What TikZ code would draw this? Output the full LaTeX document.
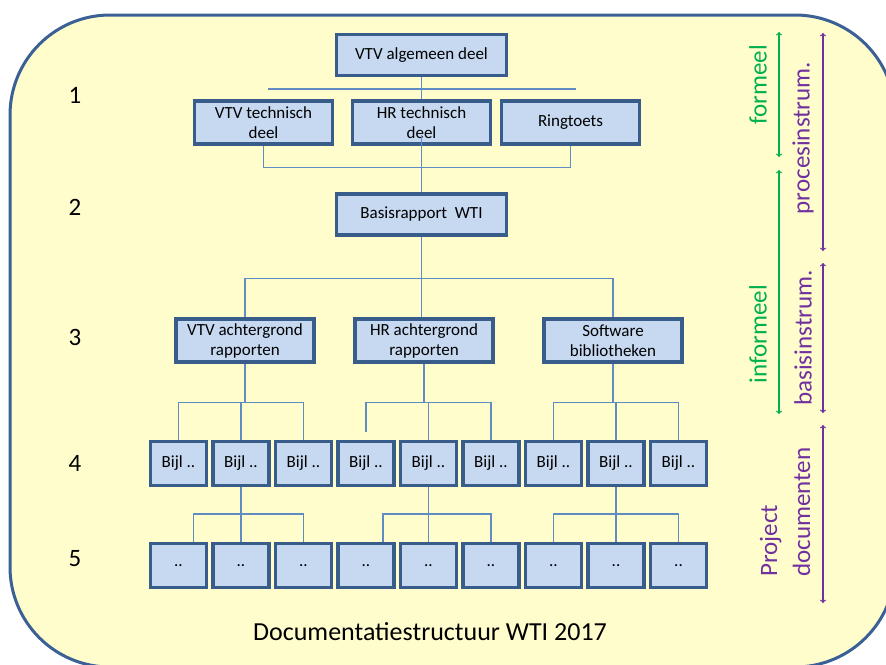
\documentclass[tikz,border=0pt]{standalone}
\usepackage{fontspec}
\setmainfont{Carlito}
\usetikzlibrary{positioning}

\definecolor{boxfill}{RGB}{198,217,241}
\definecolor{boxline}{RGB}{56,93,138}
\definecolor{linkblue}{RGB}{95,140,195}
\definecolor{bgyellow}{RGB}{255,253,204}
\definecolor{frameblue}{RGB}{59,96,150}
\definecolor{formgreen}{RGB}{0,176,80}
\definecolor{instpurple}{RGB}{112,48,160}

\tikzset{
  doc/.style={draw=boxline, fill=boxfill, line width=3.2pt, align=center,
    inner sep=0pt, font=\fontsize{17}{20}\selectfont},
  docwide/.style={doc, minimum width=170pt, minimum height=41pt},
  docmid/.style={doc, minimum width=138pt, minimum height=43pt},
  docsmall/.style={doc, minimum width=56pt, minimum height=44pt},
  link/.style={draw=linkblue, line width=1.5pt},
  lvl/.style={font=\fontsize{25}{28}\selectfont},
  side/.style={rotate=90, inner sep=0pt, font=\fontsize{25}{33}\selectfont},
  span/.style={<->, line width=1.2pt},
}

\begin{document}
\begin{tikzpicture}[x=1pt, y=-1pt, on grid]
    \useasboundingbox (0,0) rectangle (886,664);
    \draw[draw=frameblue, fill=bgyellow, line width=3pt, rounded corners=100pt]
        (10,15) rectangle (895,667);

    % level numbers
    \node[lvl] (n1) at (75,95) {1};
    \node[lvl] (n2) at (75,207) {2};
    \node[lvl] (n3) at (75,337) {3};
    \node[lvl] (n4) at (75,463) {4};
    \node[lvl] (n5) at (75,559) {5};

    % documents
    \node[docwide] (top) at (421.5,55) {VTV algemeen deel};
    \node[docmid] (hrtech) at (421.5,122.5) {HR technisch\\deel};
    \node[docmid] (vtvtech) [left=158pt of hrtech] {VTV technisch\\deel};
    \node[docmid] (ring) [right=149pt of hrtech] {Ringtoets};
    \node[docwide] (basis) at (421.5,214.5) {Basisrapport\ \ WTI};
    \node[docmid] (hrach) at (424,340.5) {HR achtergrond\\rapporten};
    \node[docmid] (vtvach) [left=179pt of hrach] {VTV achtergrond\\rapporten};
    \node[docmid] (soft) [right=189pt of hrach] {Software\\bibliotheken};
    \foreach \i in {1,...,9} {
        \node[docsmall] (b\i) at ({116+62.5*\i},463.5) {Bijl ..};
        \node[docsmall] (d\i) at ({116+62.5*\i},565.5) {..};
    }

    % connectors
    \coordinate (barl) at (268,89);
    \coordinate (barr) at (576,89);
    \draw[link] (barl) -- (barr);
    \draw[link] (top) -- (hrtech);
    \draw[link] (vtvtech.south) -- ++(0,22) -| (ring.south);
    \draw[link] ([yshift=-12pt]hrtech.center) -- (basis.north);
    \draw[link] (basis.south) -- ++(0,42) coordinate (j3);
    \draw[link] (vtvach.north) |- (j3) -| (soft.north);
    \draw[link] (j3) -- (j3 |- hrach.north);

    \draw[link] (vtvach.south) -- ++(0,39) coordinate (j41);
    \draw[link] (b1.north) |- (j41) -| (b3.north);
    \draw[link] (j41 -| b2.north) -- (b2.north);
    \draw[link] (hrach.south) -- ++(0,39) coordinate (j42);
    \draw[link] ([yshift=8pt]b4.north) |- (j42) -| (b6.north);
    \draw[link] (j42 -| b5.north) -- (b5.north);
    \draw[link] (soft.south) -- ++(0,39) coordinate (j43);
    \draw[link] (b7.north) |- (j43) -| (b9.north);
    \draw[link] (j43 -| b8.north) -- (b8.north);

    \draw[link] (b2.south) -- ++(0,27) coordinate (j51);
    \draw[link] ([xshift=15pt]d1.north) |- (j51) -| (d3.north);
    \draw[link] (j51) -- (d2.north);
    \draw[link] (b5.south) -- ++(0,27) coordinate (j52);
    \draw[link] ([xshift=17pt]d4.north) |- (j52) -| (d6.north);
    \draw[link] (j52) -- (d5.north);
    \draw[link] (b8.south) -- ++(0,27) coordinate (j53);
    \draw[link] (d7.north) |- (j53) -| (d9.north);
    \draw[link] (j53) -- (d8.north);

    % side spans
    \coordinate (fa) at (779,32);  \coordinate (fb) at (779,157);
    \coordinate (ia) at (779,170); \coordinate (ib) at (779,414);
    \coordinate (pa) at (823,33);  \coordinate (pb) at (823,251);
    \coordinate (ba) at (823,263); \coordinate (bb) at (823,413);
    \coordinate (da) at (823,425); \coordinate (db) at (823,603);
    \draw[span, formgreen] (fa) -- (fb);
    \draw[span, formgreen] (ia) -- (ib);
    \draw[span, instpurple] (pa) -- (pb);
    \draw[span, instpurple] (ba) -- (bb);
    \draw[span, instpurple] (da) -- (db);
    \node[side, text=formgreen] (formeel) at (758,85) {formeel};
    \node[side, text=formgreen] (informeel) at (758,334) {informeel};
    \node[side, text=instpurple] (proces) at (803,138) {procesinstrum.};
    \node[side, text=instpurple] (basisinst) at (803,338) {basisinstrum.};
    \node[side, text=instpurple, align=left, anchor=west] (project) at (785,577) {Project\\documenten};

    \node[font=\fontsize{26}{28}\selectfont] (title) at (430,632) {Documentatiestructuur WTI 2017};
\end{tikzpicture}
\end{document}
